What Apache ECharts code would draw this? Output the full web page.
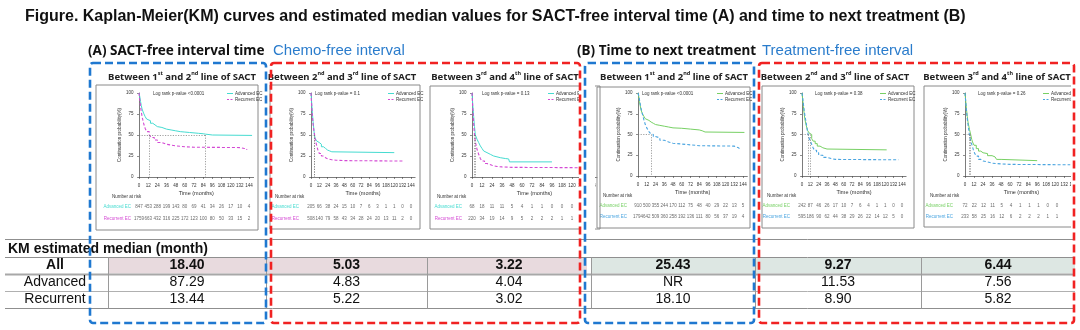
<!DOCTYPE html>
<html>
<head>
<meta charset="utf-8">
<script src="https://cdn.jsdelivr.net/npm/echarts@6/dist/echarts.min.js"></script>
<style>
  html, body { margin: 0; padding: 0; background: #fff; }
  #chart { width: 1080px; height: 330px; }
</style>
</head>
<body>
<div id="chart"></div>
<script>
// ---- data -------------------------------------------------------------
// month ticks shared by every KM plot and its number-at-risk table
const timeTicks = [0, 12, 24, 36, 48, 60, 72, 84, 96, 108, 120, 132, 144];
const groupLabels = ['Advanced EC', 'Recurrent EC'];

// KM estimates, [months, continuation probability %] — SACT-free interval
const sfi12Adv = [[0,100],[1,96],[2,90],[3,85],[4,81],[6,76],[8,72],[10,69],[12,67],[15,64],[18,62],[21,60],[24,59],[30,57],[36,56],[42,55],[48,54],[54,53.5],[60,53],[66,52.5],[72,52],[78,51.5],[84,51],[87.29,50],[96,49.5],[148,49.5]];
const sfi12Rec = [[0,100],[1,92],[2,84],[3,78],[4,72],[6,64],[8,58],[10,54],[13.44,50],[16,47],[20,44],[24,41],[30,39],[36,38],[42,37],[48,36],[60,35.5],[72,35],[132,35],[134,34],[138,33],[141,32]];
const sfi23Adv = [[0,100],[1,88],[2,76],[3,66],[4,58],[4.83,50],[6,46],[8,43],[10,41],[12,39],[15,36],[18,34],[21,32],[24,31],[27,30],[30,29],[120,29]];
const sfi23Rec = [[0,100],[1,85],[2,72],[3,63],[4,56],[5.22,50],[6,45],[8,38],[10,32],[12,28],[15,25],[18,23],[21,21.5],[24,20.5],[30,20],[36,19.5],[48,19],[132,19]];
const sfi34Adv = [[0,100],[1,85],[2,72],[3,60],[4.04,50],[6,45],[8,41],[10,37],[12,34],[14,31],[16,29],[18,27],[22,25],[26,24],[30,23],[34,22],[40,21.5],[44,21],[45,18],[96,18]];
const sfi34Rec = [[0,100],[1,80],[2,64],[3.02,50],[4,42],[6,33],[8,27],[10,22],[12,19],[15,16],[18,14],[24,12.5],[30,12],[36,11.5],[48,11],[140,11]];

// KM estimates — time to next treatment
const ttnt12Adv = [[0,100],[1,96],[2,90],[3,85],[4,80],[6,75],[8,72],[10,69],[12,67],[15,65],[18,63.5],[21,62],[24,61],[30,60],[36,59],[42,58],[48,57.5],[60,56.5],[72,55.5],[84,54.5],[88,53],[92,52.5],[146,52.5]];
const ttnt12Rec = [[0,100],[1,97],[2,92],[3,87],[4,82],[6,75],[8,68],[10,62],[12,58],[14,55],[16,52],[18.1,50],[21,47.5],[24,46],[30,43],[36,41],[42,39.5],[48,38.5],[60,37.5],[72,36.5],[84,36],[132,35.5],[134,34],[138,33],[140,32]];
const ttnt23Adv = [[0,100],[1,92],[2,84],[3,76],[4,69],[6,61],[8,55],[10,52],[11.53,50],[14,45],[16,42],[19,39],[22,36],[26,34],[30,32.5],[36,31.5],[122,31.5]];
const ttnt23Rec = [[0,100],[1,94],[2,87],[3,80],[4,74],[6,64],[7.5,56],[8.9,50],[10,46],[12,42],[14,38],[16,34],[18,31],[21,28],[24,25],[30,22.5],[36,21],[42,20],[48,19.5],[139,19.5]];
const ttnt34Adv = [[0,100],[1,90],[2,80],[3,72],[4,65],[6,56],[7.56,50],[9,44],[10,41],[12,37],[15,33],[18,30],[21,28],[24,27],[30,24.5],[36,23],[40,22.5],[42,20],[48,18.5],[96,18.5]];
const ttnt34Rec = [[0,100],[1,89],[2,78],[3,69],[4,62],[5.82,50],[7,44],[9,38],[11,32],[13,27],[15,24],[18,20],[21,18],[24,17],[30,15.5],[36,15],[42,14.5],[48,14],[60,13.5],[140,13.5]];

// number at risk at each month tick
const riskSfi12Adv = [847, 453, 288, 199, 143, 80, 69, 41, 34, 26, 17, 10, 4];
const riskSfi12Rec = [1759, 663, 432, 316, 225, 172, 123, 100, 80, 50, 33, 15, 2];
const riskSfi23Adv = [205, 66, 38, 24, 15, 10, 7, 6, 3, 1, 1, 0, 0];
const riskSfi23Rec = [508, 140, 79, 58, 43, 34, 28, 24, 20, 13, 11, 2, 0];
const riskSfi34Adv = [68, 18, 11, 11, 5, 4, 1, 1, 0, 0, 0];
const riskSfi34Rec = [220, 34, 19, 14, 9, 5, 2, 2, 2, 1, 1];
const riskTtnt12Adv = [910, 500, 355, 244, 170, 112, 75, 48, 40, 29, 22, 13, 5];
const riskTtnt12Rec = [1794, 642, 509, 360, 258, 192, 136, 111, 80, 56, 37, 19, 4];
const riskTtnt23Adv = [242, 87, 46, 26, 17, 10, 7, 6, 4, 1, 1, 0, 0];
const riskTtnt23Rec = [595, 186, 90, 62, 44, 38, 29, 26, 22, 14, 12, 5, 0];
const riskTtnt34Adv = [72, 22, 12, 11, 5, 4, 1, 1, 1, 0, 0];
const riskTtnt34Rec = [233, 58, 25, 16, 12, 6, 2, 2, 2, 1, 1];

// log-rank p-values, one per panel
const logRankP = ['<0.0001', '= 0.1', '= 0.13', '<0.0001', '= 0.38', '= 0.26'];

// KM estimated medians (months); null = not reached
const medianAll      = [18.40, 5.03, 3.22, 25.43, 9.27, 6.44];
const medianAdvanced = [87.29, 4.83, 4.04, null, 11.53, 7.56];
const medianRecurrent = [13.44, 5.22, 3.02, 18.10, 8.90, 5.82];
const tableRowLabels = ['All', 'Advanced', 'Recurrent'];

// ---- panels -----------------------------------------------------------
const colA = { adv: '#45dbd0', rec: '#d449d4' };
const colB = { adv: '#77d064', rec: '#4ba5e0' };

const panels = [
  { adv: sfi12Adv, rec: sfi12Rec, rAdv: riskSfi12Adv, rRec: riskSfi12Rec, lines: ['1', 'st', '2', 'nd'], col: colA },
  { adv: sfi23Adv, rec: sfi23Rec, rAdv: riskSfi23Adv, rRec: riskSfi23Rec, lines: ['2', 'nd', '3', 'rd'], col: colA },
  { adv: sfi34Adv, rec: sfi34Rec, rAdv: riskSfi34Adv, rRec: riskSfi34Rec, lines: ['3', 'rd', '4', 'th'], col: colA },
  { adv: ttnt12Adv, rec: ttnt12Rec, rAdv: riskTtnt12Adv, rRec: riskTtnt12Rec, lines: ['1', 'st', '2', 'nd'], col: colB },
  { adv: ttnt23Adv, rec: ttnt23Rec, rAdv: riskTtnt23Adv, rRec: riskTtnt23Rec, lines: ['2', 'nd', '3', 'rd'], col: colB },
  { adv: ttnt34Adv, rec: ttnt34Rec, rAdv: riskTtnt34Adv, rRec: riskTtnt34Rec, lines: ['3', 'rd', '4', 'th'], col: colB }
];

// pixel placement of each panel
const place = [
  { tx: 182, frame: [96, 85, 162, 145], x0: 139, ppm: 0.764, top: 93, h: 84, lr: 153, leg: 227, nar: [112, 197], rTop: 201, rH: 24, rM: 8 },
  { tx: 342, frame: [270, 85, 150, 144], x0: 311, ppm: 0.694, top: 93, h: 84, lr: 315, leg: 388, nar: [275, 197], rTop: 201, rH: 24, rM: 12 },
  { tx: 505, frame: [430, 86, 170, 143], x0: 472, ppm: 0.833, top: 93, h: 84, lr: 482, leg: 548, nar: [437, 197], rTop: 201, rH: 24, rM: 10 },
  { tx: 674, frame: [597, 87, 153, 141], x0: 638, ppm: 0.729, top: 93, h: 83, lr: 642, leg: 717, nar: [603, 196], rTop: 200, rH: 22, rM: 11 },
  { tx: 835, frame: [762, 86, 152, 142], x0: 802, ppm: 0.694, top: 93, h: 83, lr: 815, leg: 880, nar: [767, 196], rTop: 200, rH: 22, rM: 12 },
  { tx: 997, frame: [924, 86, 160, 141], x0: 965, ppm: 0.85, top: 93, h: 83, lr: 978, leg: 1043, nar: [930, 196], rTop: 200, rH: 22, rM: 12 }
];

const XMAX = 150;
const tiny = 'Liberation Sans, Arial, sans-serif';
const axisCol = '#444';

const grid = [], xAxis = [], yAxis = [], series = [], graphic = [];

function txt(x, y, text, o) {
  o = o || {};
  const align = o.align || 'left';
  const va = o.va || 'middle';
  return {
    type: 'text', z: o.z || 5,
    style: Object.assign({
      x: x, y: y, text: text,
      fill: o.fill || '#222',
      font: o.font,
      align: align, textAlign: align,
      verticalAlign: va, textVerticalAlign: va
    }, o.rich ? { rich: o.rich } : {})
  };
}

panels.forEach(function (p, i) {
  const L = place[i];
  const w = XMAX * L.ppm;
  const gPlot = 2 * i, gRisk = 2 * i + 1;

  grid.push({ left: L.x0, top: L.top, width: w, height: L.h });
  grid.push({ left: L.x0, top: L.rTop, width: w, height: L.rH });

  xAxis.push({
    gridIndex: gPlot, type: 'value', min: 0, max: XMAX, interval: 12, offset: 4,
    axisLine: { lineStyle: { color: axisCol, width: 0.7 } },
    axisTick: { length: 2, customValues: timeTicks, lineStyle: { color: axisCol, width: 0.6 } },
    axisLabel: { fontSize: 4.5, margin: 2, color: '#333', fontFamily: tiny, customValues: timeTicks,
                 formatter: function (v) { return v % 12 === 0 ? String(v) : ''; } },
    splitLine: { show: false },
    name: 'Time (months)', nameLocation: 'middle', nameGap: 9,
    nameTextStyle: { fontSize: 5.5, color: '#333', fontFamily: tiny }
  });
  yAxis.push({
    gridIndex: gPlot, type: 'value', min: 0, max: 100, interval: 25, offset: 4,
    axisLine: { show: true, lineStyle: { color: axisCol, width: 0.7 } },
    axisTick: { show: true, length: 2, lineStyle: { color: axisCol, width: 0.6 } },
    axisLabel: { fontSize: 4.5, margin: 1.5, color: '#333', fontFamily: tiny },
    splitLine: { show: false },
    name: 'Continuation probability(%)', nameLocation: 'middle', nameGap: 11, nameRotate: 90,
    nameTextStyle: { fontSize: 4.5, color: '#333', fontFamily: tiny }
  });
  xAxis.push({ gridIndex: gRisk, type: 'value', min: 0, max: XMAX, show: false });
  yAxis.push({
    gridIndex: gRisk, type: 'category', data: groupLabels, inverse: true,
    axisLine: { show: false }, axisTick: { show: false }, splitLine: { show: false },
    axisLabel: { fontSize: 4.5, margin: L.rM, fontFamily: tiny,
                 color: function (v) { return v === groupLabels[0] ? p.col.adv : p.col.rec; } }
  });

  // median guide lines
  const meds = [medianAdvanced[i], medianRecurrent[i]].filter(function (m) { return m != null; });
  const mMax = Math.max.apply(null, meds);
  const guide = [[{ coord: [0, 50] }, { coord: [mMax, 50] }]].concat(
    meds.map(function (m) { return [{ coord: [m, 50] }, { coord: [m, 0] }]; }));

  series.push({
    type: 'line', name: groupLabels[0], xAxisIndex: gPlot, yAxisIndex: gPlot,
    data: p.adv, step: 'end', symbol: 'none', z: 3,
    lineStyle: { color: p.col.adv, width: 1 },
    markLine: { silent: true, symbol: 'none', label: { show: false }, animation: false,
                lineStyle: { type: [1.2, 1.4], color: '#777', width: 0.7 }, data: guide }
  });
  series.push({
    type: 'line', name: groupLabels[1], xAxisIndex: gPlot, yAxisIndex: gPlot,
    data: p.rec, step: 'end', symbol: 'none', z: 3,
    lineStyle: { color: p.col.rec, width: 1.1, type: [3, 2] }
  });
  [p.rAdv, p.rRec].forEach(function (arr, r) {
    series.push({
      type: 'scatter', xAxisIndex: gRisk, yAxisIndex: gRisk, symbolSize: 1,
      itemStyle: { color: 'rgba(0,0,0,0)' }, silent: true,
      data: arr.map(function (n, k) { return [timeTicks[k], groupLabels[r], n]; }),
      label: { show: true, position: 'inside', fontSize: 4.5, color: '#444', fontFamily: tiny,
               formatter: function (q) { return String(q.value[2]); } }
    });
  });

  // frame, title, annotations
  const f = L.frame;
  graphic.push({ type: 'rect', z: 1, shape: { x: f[0], y: f[1], width: f[2], height: f[3] },
                 style: { fill: 'none', stroke: '#8a8a8a', lineWidth: 1 } });
  graphic.push(txt(L.tx, 77,
    '{b|Between ' + p.lines[0] + '}{s|' + p.lines[1] + '}{b| and ' + p.lines[2] + '}{s|' + p.lines[3] + '}{b| line of SACT}',
    { align: 'center', rich: {
        b: { fontFamily: 'Noto Sans', fontWeight: 'bold', fontSize: 9.5, lineHeight: 14, fill: '#222', color: '#222' },
        s: { fontFamily: 'Noto Sans', fontWeight: 'bold', fontSize: 5.5, lineHeight: 9, verticalAlign: 'top', fill: '#222', color: '#222' }
    } }));
  graphic.push(txt(L.lr, 93.5, 'Log rank p-value ' + logRankP[i], { font: '4.5px ' + tiny, fill: '#333' }));
  graphic.push({ type: 'line', z: 5, shape: { x1: L.leg, y1: 93.5, x2: L.leg + 6, y2: 93.5 },
                 style: { stroke: p.col.adv, lineWidth: 1 } });
  graphic.push({ type: 'line', z: 5, shape: { x1: L.leg, y1: 99.5, x2: L.leg + 6, y2: 99.5 },
                 style: { stroke: p.col.rec, lineWidth: 1, lineDash: [2, 1.5] } });
  graphic.push(txt(L.leg + 8, 93.5, groupLabels[0], { font: '4.5px ' + tiny, fill: '#333' }));
  graphic.push(txt(L.leg + 8, 99.5, groupLabels[1], { font: '4.5px ' + tiny, fill: '#333' }));
  graphic.push(txt(L.nar[0], L.nar[1], 'Number at risk', { font: '4.5px ' + tiny, fill: '#333' }));
});

// panels cut at the right edge of their boxes
graphic.push({ type: 'rect', z: 50, shape: { x: 579, y: 80, width: 16, height: 155 }, style: { fill: '#fff' } });
graphic.push({ type: 'rect', z: 50, shape: { x: 1071, y: 80, width: 12, height: 155 }, style: { fill: '#fff' } });

// ---- headings ---------------------------------------------------------
graphic.push(txt(25, 17,
  'Figure. Kaplan-Meier(KM) curves and estimated median values for SACT-free interval time (A) and time to next treatment (B)',
  { font: 'bold 16px Liberation Sans, Arial, sans-serif', fill: '#111' }));
graphic.push(txt(88, 51, '(A) SACT-free interval time', { font: 'bold 13.5px Noto Sans, sans-serif', fill: '#111' }));
graphic.push(txt(273, 51, 'Chemo-free interval', { font: '15px Liberation Sans, Arial, sans-serif', fill: '#2a7ccc' }));
graphic.push(txt(577, 51, '(B) Time to next treatment', { font: 'bold 13.5px Noto Sans, sans-serif', fill: '#111' }));
graphic.push(txt(762, 51, 'Treatment-free interval', { font: '15px Liberation Sans, Arial, sans-serif', fill: '#2a7ccc' }));

// ---- median table -----------------------------------------------------
const colEdges = [108, 266, 427, 591, 755, 921, 1075];
const rowMid = [265.5, 282.5, 299.5];
function hline(y, c, w) {
  graphic.push({ type: 'line', z: 6, shape: { x1: 5, y1: y, x2: 1075, y2: y }, style: { stroke: c, lineWidth: w } });
}
graphic.push({ type: 'rect', z: 4, shape: { x: 108, y: 258, width: 479, height: 15.5 }, style: { fill: '#e8dade' } });
graphic.push({ type: 'rect', z: 4, shape: { x: 591, y: 258, width: 484, height: 15.5 }, style: { fill: '#dde7e3' } });
hline(239.5, '#8f8f8f', 1);
hline(257.5, '#8f8f8f', 1);
hline(274.5, '#a8a8a8', 2);
hline(291.5, '#b0b0b0', 1);
hline(308.5, '#8f8f8f', 1);
colEdges.slice(0, 6).forEach(function (x) {
  graphic.push({ type: 'line', z: 6, shape: { x1: x + 0.5, y1: 257.5, x2: x + 0.5, y2: 308.5 },
                 style: { stroke: '#9a9a9a', lineWidth: 1 } });
});
graphic.push(txt(8, 249, 'KM estimated median (month)', { font: 'bold 14px Liberation Sans, Arial, sans-serif', fill: '#111', z: 7 }));
const tableRows = [medianAll, medianAdvanced, medianRecurrent];
tableRows.forEach(function (row, r) {
  const font = (r === 0 ? 'bold ' : '') + '14px Liberation Sans, Arial, sans-serif';
  graphic.push(txt(55, rowMid[r], tableRowLabels[r], { font: font, fill: '#111', align: 'center', z: 7 }));
  row.forEach(function (v, c) {
    const cx = (colEdges[c] + colEdges[c + 1]) / 2;
    graphic.push(txt(cx, rowMid[r], v == null ? 'NR' : v.toFixed(2), { font: font, fill: '#111', align: 'center', z: 7 }));
  });
});

// ---- dashed group boxes -------------------------------------------------
[[90, 63, 176, 260, '#1f78d0'], [271, 63, 309, 260, '#f02222'],
 [585, 63, 169, 260, '#1f78d0'], [759, 63, 315, 260, '#f02222']].forEach(function (b) {
  graphic.push({ type: 'rect', z: 100, shape: { x: b[0], y: b[1], width: b[2], height: b[3], r: 3 },
                 style: { fill: 'none', stroke: b[4], lineWidth: 2.6, lineDash: [8, 4] } });
});

const chart = echarts.init(document.getElementById('chart'), null, { renderer: 'canvas' });
chart.setOption({
  animation: false,
  backgroundColor: '#fff',
  grid: grid, xAxis: xAxis, yAxis: yAxis, series: series,
  graphic: { elements: graphic }
});
</script>
</body>
</html>
